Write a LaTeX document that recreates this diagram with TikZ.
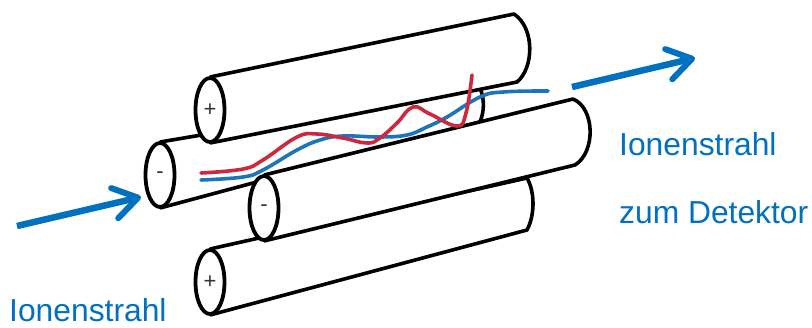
\documentclass[tikz,border=0pt]{standalone}
\usepackage{fontspec}
\setmainfont{Liberation Sans}
\usepackage{tikz}
\usetikzlibrary{arrows.meta, shapes.geometric}
\definecolor{beamblue}{RGB}{0,112,192}
\definecolor{traceblue}{RGB}{28,117,188}
\definecolor{tracered}{RGB}{204,40,62}

\begin{document}
\begin{tikzpicture}[
    x=1pt, y=-1pt,
    rodface/.style={draw, ellipse, fill=white, line width=3.8pt, minimum width=29pt,
                    minimum height=64pt, inner sep=0pt, font=\fontsize{22}{22}\selectfont, text=black!80},
    rodbody/.style={draw, fill=white, line width=3.6pt, line join=round},
    beam/.style={-{Straight Barb[length=24pt, width=31pt, line width=6pt, round]}, line width=6.5pt, draw=beamblue},
    trace/.style={line width=3.6pt, line cap=round},
    lbl/.style={font=\fontsize{31.8}{36}\selectfont, text=beamblue, anchor=base west, inner sep=0pt},
]
\useasboundingbox (0,0) rectangle (812,327);

% left rod
\coordinate (leftnorth) at (160,142);
\coordinate (leftsouth) at (160,208);
\coordinate (leftend) at (480,88);
\coordinate (leftfoot) at (480,122);
\draw[rodbody] (leftnorth) -- (leftend) .. controls (485,100) and (484,112) .. (leftfoot) -- (leftsouth);
\node[rodface] (leftface) at (160,175) {-};

% top rod
\coordinate (topnorth) at (210,77);
\coordinate (topsouth) at (210,143);
\coordinate (topend) at (514,14);
\coordinate (topfoot) at (517,82);
\draw[rodbody] (topnorth) -- (topend) .. controls (535,28) and (534,68) .. (topfoot) -- (topsouth);
\node[rodface] (topface) at (210,110) {+};

% bottom rod
\coordinate (botnorth) at (210,249);
\coordinate (botsouth) at (210,315);
\coordinate (botend) at (527,178);
\coordinate (botfoot) at (527,230);
\draw[rodbody] (botnorth) -- (botend) .. controls (535,192) and (535,215) .. (botfoot) -- (botsouth);
\node[rodface] (botface) at (210,282) {+};

% front rod
\coordinate (frontnorth) at (264,175);
\coordinate (frontsouth) at (264,241);
\coordinate (frontend) at (573,99);
\coordinate (frontfoot) at (575,165);
\draw[rodbody] (frontnorth) -- (frontend) .. controls (595,108) and (596,152) .. (frontfoot) -- (frontsouth);
\node[rodface] (frontface) at (264,208) {-};

% traces
\draw[trace, traceblue] plot[smooth, tension=0.7] coordinates {(201,180) (243,177) (263,170) (297,150) (320,140) (343,136) (380,137) (407,135) (427,127) (447,117) (480,97) (503,92) (548,91)};
\draw[trace, tracered] plot[smooth, tension=0.7] coordinates {(201,173) (243,169) (263,160) (297,137) (317,134) (343,138) (367,143) (380,138) (397,123) (413,107) (430,114) (457,126) (466,113) (472,75)};

% beams
\coordinate (inbeam) at (17,226);
\coordinate (intip) at (141,197);
\coordinate (outbeam) at (572,87);
\coordinate (outtip) at (695,58);
\draw[beam] (inbeam) -- (intip);
\draw[beam] (outbeam) -- (outtip);

% labels
\node[lbl] (inlabel) at (9,321.5) {Ionenstrahl};
\node[lbl] (outlabel) at (619,155) {Ionenstrahl};
\node[lbl] (detlabel) at (619,223) {zum Detektor};

\end{tikzpicture}
\end{document}
